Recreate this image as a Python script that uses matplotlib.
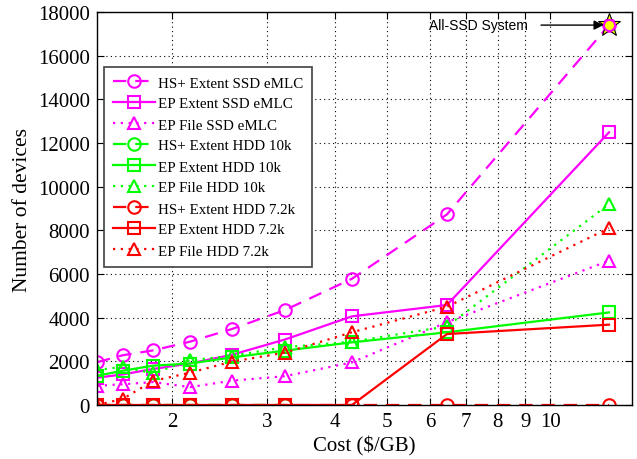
import numpy as np
import matplotlib
matplotlib.use("Agg")
import matplotlib.pyplot as plt

# ---- data ----
cost = [1.454, 1.623, 1.845, 2.160, 2.582, 3.236, 4.302, 6.447, 12.85]
nan = np.nan
hs_ssd = [1960, 2280, 2500, 2900, 3480, 4350, 5780, 8730, 17400]
ep_ext_ssd = [1250, 1400, 1650, 1900, 2300, 3000, 4060, 4580, 12490]
ep_file_ssd = [880, 950, 1050, 820, 1115, 1320, 1950, 3790, 6610]
hs_10k = [0, 0, 0, 0, 0, 0, nan, nan, nan]
ep_ext_10k = [1340, 1570, 1800, 1900, 2180, 2490, 2870, 3330, 4240]
ep_file_10k = [1600, 1750, 1450, 2050, 2250, 2650, 2900, 3600, 9200]
hs_72k = [0, 0, 0, 0, 0, 0, 0, 0, 0]
ep_ext_72k = [0, 0, 0, 0, 0, 0, 0, 3250, 3680]
ep_file_72k = [0, 280, 1100, 1480, 1985, 2400, 3330, 4500, 8100]

labels = ["HS+ Extent SSD eMLC", "EP Extent SSD eMLC", "EP File SSD eMLC",
          "HS+ Extent HDD 10k", "EP Extent HDD 10k", "EP File HDD 10k",
          "HS+ Extent HDD 7.2k", "EP Extent HDD 7.2k", "EP File HDD 7.2k"]
series = [hs_ssd, ep_ext_ssd, ep_file_ssd, hs_10k, ep_ext_10k, ep_file_10k,
          hs_72k, ep_ext_72k, ep_file_72k]
colors = ["#ff00ff"] * 3 + ["#00ff00"] * 3 + ["#ff0000"] * 3
styles = [(0, (6, 4)), "-", (0, (1, 2.5))] * 3
markers = ["o", "s", "^"] * 3
xticks = [2, 3, 4, 5, 6, 7, 8, 9, 10]
yticks = list(range(0, 18001, 2000))

plt.rcParams['font.family'] = ['Liberation Serif', 'DejaVu Serif']

fig = plt.figure(figsize=(6.37, 4.60), dpi=100)
ax = fig.add_axes([97/637, 54/460, (632-97)/637, (406-13)/460])

for ys, lab, c, ls, m in zip(series, labels, colors, styles, markers):
    ax.plot(cost, ys, color=c, linestyle=ls, linewidth=1.6, marker=m,
            markersize=9, markerfacecolor='none', markeredgecolor=c,
            markeredgewidth=1.5, label=lab)

# All-SSD point highlight
ax.plot(cost[-1], hs_ssd[-1], marker='*', markersize=17, markerfacecolor='#ffff00',
        markeredgecolor='black', markeredgewidth=0.8, linestyle='none', zorder=5)
ax.plot(cost[-1], hs_ssd[-1], marker='o', markersize=8, markerfacecolor='#ffff00',
        markeredgecolor='#ff00ff', markeredgewidth=1.5, linestyle='none', zorder=6)
ax.annotate('', xy=(cost[-1], hs_ssd[-1]), xytext=(-68, 0), textcoords='offset pixels',
            arrowprops=dict(arrowstyle='-|>', color='black', lw=1.0,
                            mutation_scale=14, shrinkA=0, shrinkB=4), zorder=7)
ax.annotate('All-SSD System', xy=(cost[-1], hs_ssd[-1]), xytext=(-81, 0),
            textcoords='offset pixels', ha='right', va='center', fontsize=10,
            family=['Liberation Sans', 'DejaVu Sans'])

ax.set_xscale('log')
ax.set_xlim(1.454, 14.17)
ax.set_ylim(0, 18000)
ax.set_xticks(xticks)
ax.set_xticklabels([str(t) for t in xticks])
ax.xaxis.set_minor_locator(matplotlib.ticker.NullLocator())
ax.set_yticks(yticks)
ax.tick_params(direction='in', top=True, right=True, labelsize=15, length=5,
               width=0.8, pad=5)
ax.grid(True, which='major', linestyle=(0, (1, 3)), color='black', linewidth=0.8)
ax.set_xlabel('Cost (\\$/GB)', fontsize=15, labelpad=3)
ax.set_ylabel('Number of devices', fontsize=15.5, labelpad=4)
for s in ax.spines.values():
    s.set_linewidth(1.0)

leg = ax.legend(loc='upper left', bbox_to_anchor=(7/535, (406-68)/393), fontsize=10.8,
                handlelength=2.8, handletextpad=0.2, labelspacing=0.5,
                borderpad=0.6, borderaxespad=0, fancybox=False, framealpha=1,
                edgecolor='#404040')
leg.get_frame().set_linewidth(1.2)

fig.savefig('out.png', dpi=100)
